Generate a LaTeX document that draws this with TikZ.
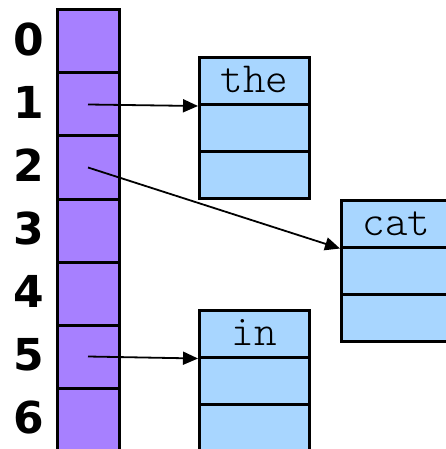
\documentclass[tikz,border=0pt]{standalone}
\usepackage{fontspec}
\setsansfont{DejaVu Sans}
\setmonofont{Latin Modern Mono Light}
\usetikzlibrary{arrows.meta}
\definecolor{slotpurple}{RGB}{167,128,255}
\definecolor{wordblue}{RGB}{168,214,255}
\tikzset{
    slot/.style={draw, line width=3pt, fill=slotpurple, minimum width=62pt, minimum height=63pt, inner sep=0pt},
    cell/.style={draw, line width=3pt, fill=wordblue, minimum width=110pt, minimum height=47pt, inner sep=0pt},
    word/.style={cell, font=\ttfamily\fontsize{43}{43}\selectfont, text height=23pt, text depth=0pt},
    idx/.style={font=\sffamily\bfseries\fontsize{44}{44}\selectfont, inner sep=0pt},
    ptr/.style={line width=1.8pt, -{Triangle[length=15pt, width=13pt]}}
}
\begin{document}
\begin{tikzpicture}[x=1pt, y=-1pt]
        \useasboundingbox (0,0) rectangle (445,449);
        \begin{scope} % the array
            \node[slot] (s0) at (88, 41.5) {};
            \node[slot] (s1) at (88, 104.5) {};
            \node[slot] (s2) at (88, 167.5) {};
            \node[slot] (s3) at (88, 230.5) {};
            \node[slot] (s4) at (88, 293.5) {};
            \node[slot] (s5) at (88, 356.5) {};
            \node[slot] (s6) at (88, 419.5) {};
        \end{scope}
        \node[idx] (l0) at (28.5, 39.5) {0};
        \node[idx] (l1) at (28.5, 102.5) {1};
        \node[idx] (l2) at (28.5, 165.5) {2};
        \node[idx] (l3) at (28.5, 228.5) {3};
        \node[idx] (l4) at (28.5, 291.5) {4};
        \node[idx] (l5) at (28.5, 354.5) {5};
        \node[idx] (l6) at (28.5, 417.5) {6};

        \begin{scope} % the words
            \node[word] (the) at (254.5, 81) {the};
            \node[cell] (the2) at (254.5, 128) {};
            \node[cell] (the3) at (254.5, 175) {};
            \node[word] (cat) at (396.5, 223.5) {cat};
            \node[cell] (cat2) at (396.5, 270.5) {};
            \node[cell] (cat3) at (396.5, 317.5) {};
            \node[word] (in) at (254.5, 333.5) {in};
            \node[cell] (in2) at (254.5, 380.5) {};
            \node[cell] (in3) at (254.5, 427.5) {};
        \end{scope}

        \draw[ptr] (s1.center) -- (the.south west);
        \draw[ptr] (s2.center) -- (cat.south west);
        \draw[ptr] (s5.center) -- (in.south west);
    \end{tikzpicture}
\end{document}
